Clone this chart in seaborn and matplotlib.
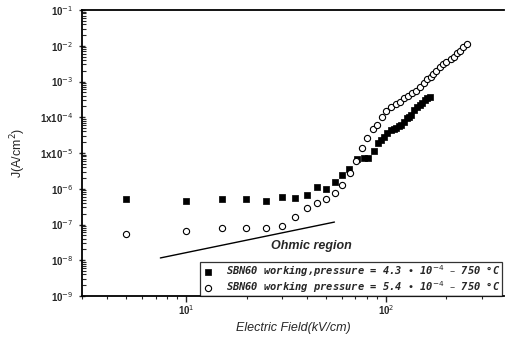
import numpy as np
import pandas as pd
import matplotlib
matplotlib.use("Agg")
import matplotlib.pyplot as plt
from matplotlib.ticker import LogLocator, FixedLocator, FixedFormatter, NullFormatter
import seaborn as sns

# ---- data ----
field_a = [5.0, 10.0, 15.0, 19.8, 24.9, 30.0, 34.9, 40.1, 45.0, 50.0, 55.5, 60.0, 65.2,
           71.5, 77.5, 81.1, 86.9, 91.2, 94.4, 97.7, 101.2, 105.9, 109.6, 112.2, 116.1,
           118.9, 123.1, 127.5, 130.5, 133.6, 138.3, 143.2, 146.6, 150.0, 155.3, 160.7, 164.5]
j_a = [5.2e-7, 4.6e-7, 5.2e-7, 5.2e-7, 4.5e-7, 5.9e-7, 5.5e-7, 6.7e-7, 1.12e-6, 9.8e-7,
       1.55e-6, 2.4e-6, 3.6e-6, 6.8e-6, 7.3e-6, 7.3e-6, 1.14e-5, 1.9e-5, 2.3e-5, 2.8e-5,
       3.6e-5, 4.4e-5, 4.7e-5, 5.0e-5, 5.7e-5, 6.1e-5, 7.4e-5, 9.5e-5, 1.02e-4, 1.16e-4,
       1.6e-4, 1.94e-4, 2.2e-4, 2.5e-4, 3.0e-4, 3.45e-4, 3.7e-4]

field_b = [5.0, 10.0, 15.0, 19.8, 25.0, 30.0, 35.0, 40.0, 45.0, 50.0, 55.5, 60.0, 65.8,
           70.7, 75.7, 80.3, 86.1, 90.1, 95.5, 100.0, 106.0, 112.0, 117.5, 123.0, 129.0,
           135.0, 141.5, 148.0, 153.5, 159.0, 166.5, 172.0, 178.0, 186.6, 193.0, 200.0,
           210.0, 217.0, 225.0, 233.0, 241.0, 252.0]
j_b = [5.4e-8, 6.6e-8, 8.0e-8, 8.0e-8, 8.0e-8, 9.1e-8, 1.62e-7, 2.9e-7, 4.0e-7, 5.2e-7,
       7.6e-7, 1.27e-6, 2.76e-6, 5.97e-6, 1.38e-5, 2.63e-5, 4.7e-5, 6.1e-5, 1.02e-4,
       1.5e-4, 1.94e-4, 2.35e-4, 2.67e-4, 3.45e-4, 3.9e-4, 4.8e-4, 5.4e-4, 7.0e-4,
       9.1e-4, 1.17e-3, 1.34e-3, 1.62e-3, 1.97e-3, 2.55e-3, 3.1e-3, 3.5e-3, 4.3e-3,
       4.8e-3, 6.3e-3, 7.1e-3, 9.2e-3, 1.12e-2]

label_a = "SBN60 working,pressure = 4.3 \u2022 10$^{-4}$ \u2013 750 \u00b0C"
label_b = "SBN60 working pressure = 5.4 \u2022 10$^{-4}$ \u2013 750 \u00b0C"

ohmic_x = [7.4, 55.0]
ohmic_y = [1.16e-8, 1.17e-7]

ytick_vals = [1e-1, 1e-2, 1e-3, 1e-4, 1e-5, 1e-6, 1e-7, 1e-8, 1e-9]
ytick_labels = ["10$^{-1}$", "10$^{-2}$", "10$^{-3}$", "1x10$^{-4}$", "1x10$^{-5}$",
                "10$^{-6}$", "10$^{-7}$", "10$^{-8}$", "10$^{-9}$"]
xtick_vals = [10, 100]
xtick_labels = ["10$^{1}$", "10$^{2}$"]

df_a = pd.DataFrame({"E": field_a, "J": j_a})
df_b = pd.DataFrame({"E": field_b, "J": j_b})

sns.set_style("ticks")
plt.rcParams["font.family"] = ["Liberation Sans", "DejaVu Sans"]

fig = plt.figure(figsize=(5.06, 3.41), dpi=100)
ax = fig.add_axes([82/506, 1-296/341, (504-82)/506, (296-10)/341])

ax.set_xscale("log")
ax.set_yscale("log")

sns.scatterplot(data=df_a, x="E", y="J", marker="s", s=16, color="black",
                edgecolor="black", linewidth=0.5, ax=ax, label=label_a, zorder=3)
sns.scatterplot(data=df_b, x="E", y="J", marker="o", s=20, facecolor="white",
                edgecolor="black", linewidth=0.8, ax=ax, label=label_b, zorder=3)

ax.plot(ohmic_x, ohmic_y, color="black", lw=1.0)
ax.text(42, 2.5e-8, "Ohmic region", ha="center", va="center", fontsize=9,
        fontweight="bold", fontstyle="italic")

ax.set_xlim(3, 388)
ax.set_ylim(1e-9, 1e-1)

ax.yaxis.set_major_locator(FixedLocator(ytick_vals))
ax.yaxis.set_major_formatter(FixedFormatter(ytick_labels))
ax.yaxis.set_minor_locator(LogLocator(base=10, subs=np.arange(2, 10), numticks=20))
ax.yaxis.set_minor_formatter(NullFormatter())
ax.xaxis.set_major_locator(FixedLocator(xtick_vals))
ax.xaxis.set_major_formatter(FixedFormatter(xtick_labels))
ax.xaxis.set_minor_locator(LogLocator(base=10, subs=np.arange(2, 10), numticks=20))
ax.xaxis.set_minor_formatter(NullFormatter())

ax.tick_params(axis="y", which="major", direction="inout", length=5, width=1.0,
               labelsize=7)
ax.tick_params(axis="y", which="minor", direction="in", length=3, width=0.8)
ax.tick_params(axis="x", which="major", direction="out", length=4, width=1.0,
               labelsize=7, pad=1.5)
ax.tick_params(axis="x", which="minor", direction="out", length=2.5, width=0.8)
for lab in ax.get_yticklabels() + ax.get_xticklabels():
    lab.set_fontweight("bold")

for side in ["left", "bottom", "top"]:
    ax.spines[side].set_linewidth(1.3)
    ax.spines[side].set_color("black")
ax.spines["right"].set_visible(False)

ax.set_xlabel("Electric Field(kV/cm)", fontsize=9, fontstyle="italic", labelpad=3)
ax.set_ylabel("J(A/cm$^{2}$)", fontsize=9, labelpad=9)

leg = ax.legend(loc="lower right", bbox_to_anchor=(0.995, 0.0), borderaxespad=0.0,
                frameon=True, fancybox=False, edgecolor="black",
                handletextpad=1.2, borderpad=0.12, labelspacing=0.0,
                handlelength=1.2,
                prop={"family": ["DejaVu Sans Mono", "DejaVu Sans"], "weight": "bold",
                      "style": "oblique", "size": 7.5})
leg.get_frame().set_linewidth(0.9)

fig.savefig("out.png", dpi=100)
